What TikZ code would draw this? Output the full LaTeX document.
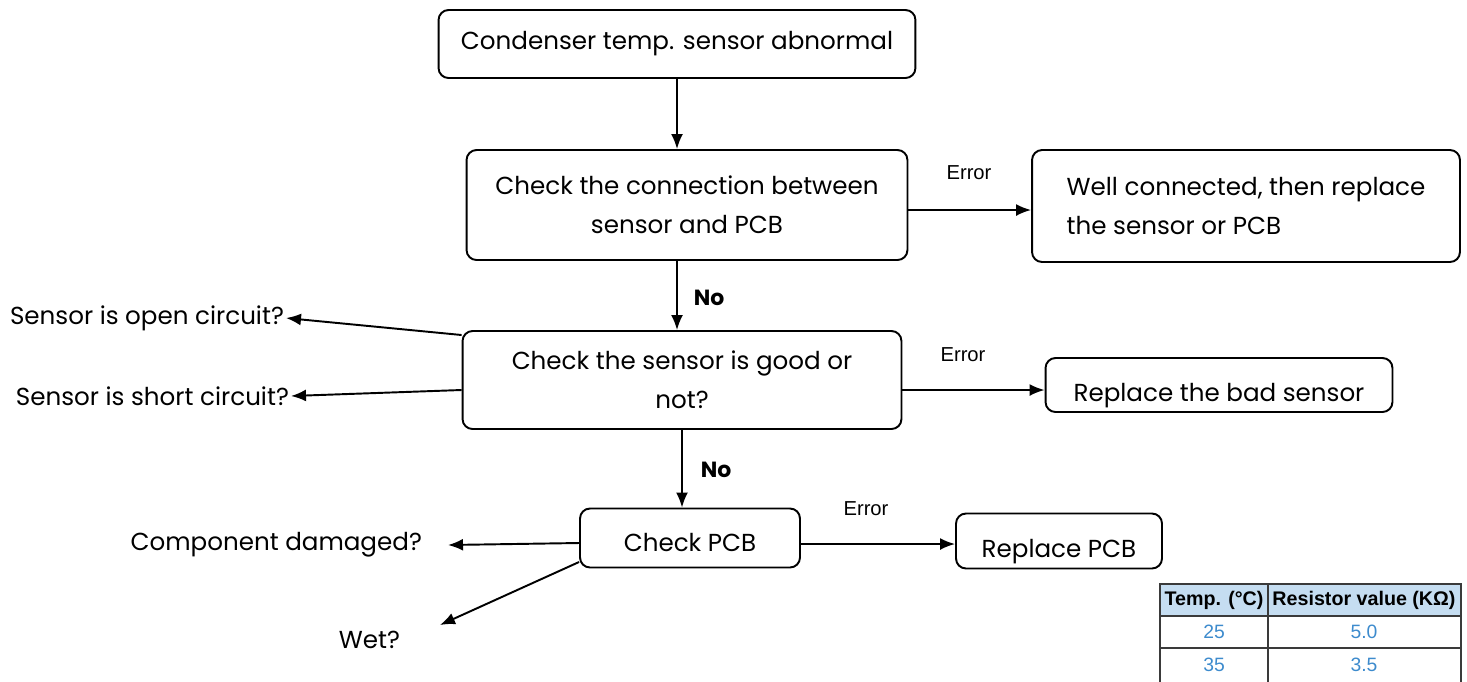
\documentclass[tikz,border=0pt]{standalone}
\usepackage{fontspec}
\setmainfont{Poppins}
\newfontfamily\errfont{Liberation Sans}
\usetikzlibrary{arrows.meta}
\definecolor{hdrBlue}{HTML}{C5DDF1}
\definecolor{valBlue}{HTML}{3D8BCD}
\definecolor{gridGray}{HTML}{3A3A3A}
\begin{document}
\begin{tikzpicture}[x=0.02cm, y=-0.02cm,
    boxStyle/.style={rectangle, rounded corners=0.2cm, draw, line width=1.1pt, inner sep=0pt, font=\fontsize{14}{22}\selectfont},
    labelStyle/.style={inner sep=1pt, font=\fontsize{14}{22}\selectfont},
    errStyle/.style={inner sep=1pt, font=\errfont\fontsize{11.5}{13}\selectfont},
    noStyle/.style={inner sep=1pt, font=\bfseries\fontsize{12.5}{14}\selectfont},
    cellStyle/.style={inner sep=0pt, font=\errfont\fontsize{11}{12}\selectfont},
    arrowStyle/.style={-{Latex[length=0.3cm, width=0.24cm]}, line width=1.1pt}]
    \clip (0,0) rectangle (1467,681);

    % boxes
    \node[boxStyle, minimum width=9.54cm, minimum height=1.36cm] (start_0) at (677, 44) {Condenser temp. sensor abnormal};
    \node[boxStyle, minimum width=8.82cm, minimum height=2.2cm, align=center] (conn_0) at (687, 205) {Check the connection between\\sensor and PCB};
    \node[boxStyle, minimum width=8.56cm, minimum height=2.24cm, align=left] (conn_1) at (1246, 206) {Well connected, then replace\\the sensor or PCB};
    \node[boxStyle, minimum width=8.78cm, minimum height=1.96cm, align=center] (sens_0) at (682, 380) {Check the sensor is good or\\not?};
    \node[boxStyle, minimum width=6.94cm, minimum height=1.08cm, text height=22pt] (sens_1) at (1219, 385) {Replace the bad sensor};
    \node[boxStyle, minimum width=4.4cm, minimum height=1.18cm, text height=16pt] (pcb_0) at (690, 538) {Check PCB};
    \node[boxStyle, minimum width=4.12cm, minimum height=1.1cm, text height=22pt] (pcb_1) at (1059, 541) {Replace PCB};

    % free labels
    \node[labelStyle, anchor=east] (sens_L0) at (286, 318) {Sensor is open circuit?};
    \node[labelStyle, anchor=east] (sens_L1) at (291, 396) {Sensor is short circuit?};
    \node[labelStyle, anchor=east] (pcb_L0) at (424, 545) {Component damaged?};
    \node[labelStyle, anchor=east] (pcb_L1) at (402, 640) {Wet?};

    \node[errStyle] (err_0) at (969, 173) {Error};
    \node[errStyle] (err_1) at (963, 355) {Error};
    \node[errStyle] (err_2) at (866, 509) {Error};
    \node[noStyle] (no_0) at (709, 298) {No};
    \node[noStyle] (no_1) at (716, 470) {No};

    % connectors
    \draw[arrowStyle] (start_0.south) -- (conn_0.north -| start_0.south);
    \draw[arrowStyle] (conn_0.east |- 0,210) -- (conn_1.west |- 0,210);
    \draw[arrowStyle] (conn_0.south -| start_0.south) -- (sens_0.north -| start_0.south);
    \draw[arrowStyle] (sens_0.west |- 0,335) -- (sens_L0.east);
    \draw[arrowStyle] (sens_0.west |- 0,390) -- (sens_L1.east);
    \draw[arrowStyle] (sens_0.east |- 0,390) -- (sens_1.west |- 0,390);
    \draw[arrowStyle] (sens_0.south) -- (pcb_0.north -| sens_0.south);
    \draw[arrowStyle] (pcb_0.west |- 0,543) -- (448, 545) coordinate (pcb_E0);
    \draw[arrowStyle] (pcb_0.west |- 0,562) -- (440, 625) coordinate (pcb_E1);
    \draw[arrowStyle] (pcb_0.east |- 0,544) -- (pcb_1.west |- 0,544);

    % table
    \fill[hdrBlue] (1160, 584) rectangle (1461, 616);
    \draw[gridGray, line width=0.6pt] (1160, 584) rectangle (1461, 700);
    \draw[gridGray, line width=0.6pt] (1160, 616) -- (1461, 616);
    \draw[gridGray, line width=0.6pt] (1160, 648) -- (1461, 648);
    \draw[gridGray, line width=0.6pt] (1268, 584) -- (1268, 700);
    \node[cellStyle, font=\errfont\bfseries\fontsize{11.2}{12}\selectfont] (tab_H0) at (1214, 600) {Temp. (°C)};
    \node[cellStyle, font=\errfont\bfseries\fontsize{11.2}{12}\selectfont] (tab_H1) at (1364, 600) {Resistor value (KΩ)};
    \node[cellStyle, text=valBlue] (tab_00) at (1214, 632) {25};
    \node[cellStyle, text=valBlue] (tab_01) at (1364, 632) {5.0};
    \node[cellStyle, text=valBlue] (tab_10) at (1214, 665) {35};
    \node[cellStyle, text=valBlue] (tab_11) at (1364, 665) {3.5};
\end{tikzpicture}
\end{document}
